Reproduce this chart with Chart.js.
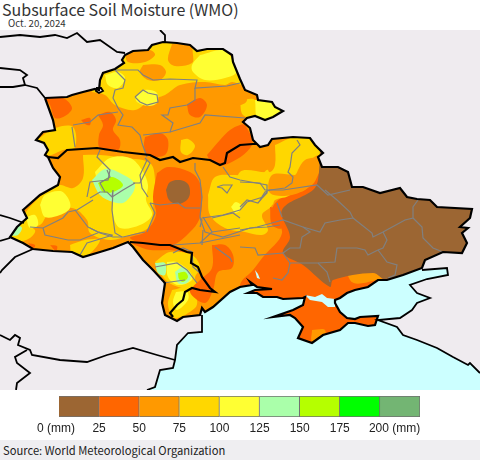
<!DOCTYPE html>
<html>
<head>
<meta charset="utf-8">
<title>Subsurface Soil Moisture (WMO)</title>
<script src="https://cdn.jsdelivr.net/npm/chart.js@4"></script>
<style>
  html, body { margin: 0; padding: 0; background: #fff; }
  #page { position: relative; width: 480px; height: 460px; overflow: hidden; }
  #page canvas { position: absolute; left: 0; }
  #title { position: absolute; left: 2px; top: -4px; font: 16px/26px "Noto Sans CJK JP", sans-serif; color: #333; white-space: nowrap; }
  #date { position: absolute; left: 8px; top: 16px; font: 9.7px/14px "Noto Sans CJK JP", sans-serif; color: #333; }
  #source { position: absolute; left: 0; top: 440px; width: 477px; height: 20px; padding-left: 3px; background: #efeef1; font: 11.2px/20px "Noto Sans CJK JP", sans-serif; color: #222; }
</style>
</head>
<body>
<div id="page">
  <div id="title">Subsurface Soil Moisture (WMO)</div>
  <div id="date">Oct. 20, 2024</div>
  <canvas id="map" width="480" height="360" style="top:30px"></canvas>
  <canvas id="scale" width="480" height="50" style="top:390px"></canvas>
  <div id="source">Source: World Meteorological Organization</div>
</div>
<script>
// colour classes, driest first
var classLabels = ["0-25","25-50","50-75","75-100","100-125","125-150","150-175","175-200","200+"];
var classColors = ["#9C6633","#FF6600","#FF9900","#FFD700","#FFFF33","#AAFFAA","#B5FF00","#00FF00","#73B573"];
var classWidths = [25,25,25,25,25,25,25,25,25];
var scaleTicks = [0,25,50,75,100,125,150,175,200];
var landColor = "#EFEBEF", seaColor = "#CCFFFF";

// country outline, map units
var countryOutline = [[45,98],[67,97],[72,95],[83,92],[95,89],[99,90],[100,80],[103,73],[115,69],[124,63],[122,60],[125,55],[133,51],[148,50],[152,45],[163,42],[177,43],[190,45],[197,51],[207,49],[223,49],[232,55],[233,62],[240,79],[245,90],[257,95],[258,100],[272,102],[275,107],[283,111],[273,117],[265,120],[255,116],[247,118],[243,122],[250,128],[253,140],[257,144],[260,147],[268,145],[272,139],[293,137],[310,138],[315,145],[323,153],[318,157],[322,167],[338,167],[348,172],[352,187],[363,187],[380,193],[400,188],[407,197],[417,199],[430,200],[437,207],[472,209],[470,218],[460,227],[468,228],[462,233],[467,243],[462,253],[443,252],[425,260],[422,268],[403,275],[387,280],[378,280],[368,287],[355,290],[347,293],[340,298],[335,300],[335,303],[340,312],[347,318],[355,319],[360,317],[378,316],[375,325],[368,326],[355,323],[348,323],[340,330],[323,335],[312,343],[298,338],[303,327],[295,318],[290,315],[273,317],[293,310],[303,305],[305,297],[303,298],[283,299],[277,297],[263,297],[257,293],[248,293],[255,290],[272,289],[257,287],[250,282],[252,285],[240,287],[230,292],[213,307],[205,312],[202,308],[200,315],[183,317],[177,321],[165,315],[162,303],[165,283],[153,270],[143,260],[133,247],[128,242],[113,248],[100,252],[83,257],[72,252],[53,251],[33,249],[23,243],[10,237],[17,227],[27,218],[23,210],[40,195],[58,185],[60,177],[53,168],[48,157],[45,155],[48,150],[44,143],[36,140],[43,132],[55,130],[53,120],[45,98]];
var midBorder = [[48,157],[58,158],[67,150],[97,148],[123,152],[150,155],[160,160],[173,157],[180,162],[193,158],[210,160],[220,165],[225,163],[227,153],[240,145],[253,144],[257,144]];
var moldovaBorder = [[130,242],[143,243],[160,245],[170,245],[187,252],[192,253],[191,263],[198,267],[202,277],[210,288],[215,292],[200,290],[192,288],[185,292],[183,300],[177,305],[170,313],[173,317]];
var otherBorders = [
  [[0,37],[20,35],[40,37],[55,35],[67,38],[77,33],[87,42],[100,40],[117,52],[125,53]],
  [[160,30],[165,35],[165,42]],
  [[0,68],[20,70],[27,75],[23,78],[25,85],[13,87],[0,87]],
  [[25,85],[37,88],[45,98]],
  [[0,215],[10,218],[24,223]],
  [[0,241],[10,238]],
  [[33,249],[15,257],[2,270],[0,273]],
  [[0,335],[10,340],[15,335],[20,338],[18,345],[30,350],[32,355],[60,360],[87,362],[107,355],[133,348],[157,355],[175,360]],
  [[27,350],[15,357],[17,363],[30,373],[17,383],[16,390]]
];
var enclave = [[96,88],[101,88],[103,91],[99,93],[96,91],[96,88]];
var westCoast = [[202,315],[202,332],[188,333],[177,345],[175,360],[173,368],[160,370],[155,387],[147,390]];
var eastCoast = [[480,373],[470,363],[468,365],[453,357],[437,348],[417,340],[403,335],[397,327],[378,320],[400,318],[412,310],[417,303],[430,298],[417,293],[410,285],[427,279],[448,275],[447,268],[422,270]];
var seaEdge = [[300,270],[240,280],[205,305]];
var sivash = [[305,295],[315,297],[322,294],[327,298],[335,299],[335,307],[328,307],[322,302],[310,300],[305,295]];
var estuary = [[255,270],[258,274],[260,279],[257,278],[255,270]];

// moisture contours, painted in order over the orange base
var contourLayers = [
  { cls: 1, rings: [
    [[320,157],[340,170],[350,280],[400,280],[420,350],[235,350],[240,285],[253,270],[263,257],[282,233],[272,210],[285,195],[305,190],[315,175],[320,157]]
  ]},
  { cls: 2, rings: [
    [[312,330],[325,330],[322,342],[312,342],[312,330]]
  ]},
  { cls: 3, rings: [
    [[92,92],[100,70],[125,55],[160,40],[240,60],[245,85],[232,82],[225,85],[205,82],[180,85],[165,95],[150,100],[135,110],[115,105],[105,95],[92,92]],
    [[240,100],[255,100],[258,118],[243,115],[240,100]],
    [[37,140],[55,128],[73,127],[75,147],[63,150],[47,155],[37,140]],
    [[275,145],[295,137],[315,140],[320,155],[305,160],[298,170],[294,182],[290,195],[275,200],[272,205],[240,200],[240,172],[270,172],[275,165],[275,145]],
    [[83,155],[100,155],[125,158],[150,163],[155,180],[153,200],[153,215],[148,228],[130,235],[110,240],[90,233],[87,220],[72,208],[48,215],[40,225],[22,228],[24,215],[42,195],[58,185],[73,188],[83,178],[83,155]],
    [[70,245],[85,240],[100,240],[85,257],[72,254],[70,245]],
    [[208,195],[215,177],[235,175],[258,177],[268,170],[270,190],[272,205],[262,215],[268,230],[262,235],[245,232],[225,228],[210,215],[208,195]],
    [[10,237],[20,224],[35,230],[30,238],[15,242],[10,237]],
    [[155,262],[170,252],[192,255],[200,267],[195,278],[198,290],[173,285],[163,277],[155,262]],
    [[172,290],[190,287],[197,300],[195,308],[175,318],[168,305],[172,290]],
    [[181,140],[188,139],[195,146],[188,155],[181,152],[181,140]]
  ]},
  { cls: 2, rings: [
    [[125,52],[150,50],[155,55],[145,62],[128,62],[125,52]],
    [[172,44],[190,44],[193,55],[192,63],[175,66],[168,60],[172,44]],
    [[143,65],[160,65],[166,72],[160,80],[148,80],[140,72],[143,65]],
    [[228,90],[240,85],[247,100],[240,105],[228,100],[228,90]],
    [[295,175],[318,155],[322,165],[318,175],[312,185],[292,195],[270,193],[272,175],[295,175]]
  ]},
  { cls: 4, rings: [
    [[200,55],[225,50],[233,62],[237,72],[225,78],[205,80],[193,72],[192,65],[200,55]],
    [[105,75],[118,72],[125,78],[118,88],[108,85],[105,75]],
    [[135,97],[145,90],[157,93],[157,103],[148,106],[137,102],[135,97]],
    [[255,100],[272,102],[285,111],[272,118],[258,120],[255,100]],
    [[40,205],[45,195],[60,191],[68,198],[70,208],[60,215],[45,217],[40,205]],
    [[26,217],[35,215],[38,225],[30,228],[26,217]],
    [[95,172],[110,158],[130,158],[142,170],[148,185],[146,200],[152,215],[140,225],[120,228],[113,215],[112,195],[100,190],[95,172]],
    [[231,207],[236,202],[242,207],[236,213],[231,207]],
    [[167,262],[177,262],[190,272],[192,280],[178,285],[168,277],[167,262]],
    [[176,292],[187,292],[188,300],[177,310],[173,302],[176,292]]
  ]},
  { cls: 1, rings: [
    [[45,98],[63,98],[72,108],[65,116],[55,118],[50,105],[45,98]],
    [[98,115],[110,112],[116,120],[113,130],[120,140],[118,150],[100,148],[99,135],[103,125],[98,115]],
    [[81,120],[90,118],[90,125],[85,124],[81,120]],
    [[145,137],[160,133],[168,140],[165,155],[147,155],[144,145],[145,137]],
    [[187,105],[200,98],[207,105],[200,117],[190,115],[187,105]],
    [[207,155],[220,140],[230,130],[240,125],[245,125],[252,145],[225,165],[210,160],[207,155]],
    [[157,173],[168,167],[190,172],[200,183],[202,203],[199,220],[190,232],[173,245],[150,245],[130,238],[145,232],[156,215],[153,197],[157,173]],
    [[270,207],[280,210],[282,228],[272,225],[270,207]],
    [[128,241],[170,244],[187,252],[170,250],[150,250],[135,245],[128,241]],
    [[212,245],[225,245],[233,255],[232,268],[218,272],[213,290],[205,303],[190,292],[200,280],[212,268],[212,245]],
    [[28,243],[35,245],[33,249],[28,243]],
    [[50,245],[57,246],[56,251],[50,245]]
  ]},
  { cls: 0, rings: [
    [[320,150],[480,160],[480,260],[387,280],[373,273],[333,280],[330,287],[303,265],[283,253],[290,237],[282,210],[313,190],[318,180],[320,150]],
    [[166,190],[170,182],[180,180],[188,184],[190,193],[187,200],[178,204],[169,200],[166,190]]
  ]},
  { cls: 5, rings: [
    [[92,180],[105,169],[120,173],[135,185],[125,202],[113,202],[100,195],[92,180]],
    [[12,236],[18,226],[22,228],[18,235],[12,236]],
    [[155,263],[165,263],[165,275],[158,273],[155,263]],
    [[175,272],[183,267],[191,275],[187,283],[178,283],[175,272]]
  ]},
  { cls: 6, rings: [
    [[98,183],[112,177],[123,185],[113,192],[103,192],[98,183]],
    [[178,273],[185,272],[188,277],[183,282],[179,279],[178,273]]
  ]}
];

// oblast boundaries
var oblastLines = [
  [[115,70],[138,70],[143,75],[153,80],[170,79],[197,80],[195,88],[227,86],[240,83]],
  [[115,70],[125,80],[123,88],[115,90],[113,98],[118,108],[123,115],[118,125],[132,127],[140,135],[142,143],[147,157]],
  [[73,125],[90,122],[98,115],[118,112]],
  [[72,127],[75,147]],
  [[135,97],[143,90],[148,93],[157,95],[158,102],[147,105],[140,102],[135,97]],
  [[195,88],[195,100],[187,105],[170,108],[168,115],[162,115],[173,123],[170,132],[143,135]],
  [[170,132],[200,123],[205,115],[245,118]],
  [[297,140],[300,145],[292,153],[290,167],[288,172],[293,177],[292,183],[285,188],[270,190],[265,192],[260,200]],
  [[240,182],[260,183],[265,190],[283,190],[317,185],[328,195],[350,190]],
  [[195,163],[195,170],[200,180],[202,197],[200,217],[202,220],[200,227]],
  [[223,167],[230,177],[240,180],[267,185],[267,193],[263,197],[247,202],[240,210],[223,215],[202,218]],
  [[217,187],[223,185],[232,185],[227,193],[222,188],[217,187]],
  [[133,183],[140,183],[150,163],[145,158]],
  [[90,198],[100,192],[107,192],[112,197],[123,190],[135,183]],
  [[107,170],[110,177],[100,183],[105,192]],
  [[90,228],[100,233],[113,237],[123,237],[140,233],[145,232]],
  [[150,203],[160,205],[178,203],[185,208],[200,208]],
  [[150,203],[155,213],[147,232]],
  [[200,218],[205,232],[223,237],[250,228],[267,227],[280,225]],
  [[203,230],[202,245]],
  [[100,150],[97,157],[110,170],[108,180],[90,182],[87,197]],
  [[147,160],[140,175],[142,188],[148,197]],
  [[112,197],[113,190],[112,210],[115,233],[122,237]],
  [[93,200],[77,210],[68,212],[63,218],[43,228],[30,227]],
  [[75,210],[88,227],[98,232],[112,235]],
  [[43,228],[45,235],[68,240],[80,240],[100,232]],
  [[80,255],[87,243],[113,235]],
  [[203,217],[212,232],[200,243],[173,245]],
  [[212,218],[233,213],[240,218]],
  [[212,232],[240,228]],
  [[200,243],[240,235]],
  [[215,247],[230,258],[232,262]],
  [[173,253],[183,248],[192,252],[193,267],[200,273],[203,278]],
  [[155,267],[177,263],[187,270],[197,283]],
  [[163,283],[185,280]],
  [[240,230],[257,227],[272,223],[283,220],[303,227],[320,232],[325,223],[340,220],[353,218],[350,212],[337,200],[325,190]],
  [[353,218],[372,233],[373,237],[383,232],[405,220],[413,218],[413,207],[418,200]],
  [[383,232],[387,240],[383,248],[378,250],[368,255],[365,250],[357,248],[337,248],[335,262],[318,263]],
  [[413,218],[422,227],[423,238],[433,248],[443,252]],
  [[378,250],[387,262],[397,265],[395,275],[388,278]],
  [[303,227],[310,232],[302,237],[300,248],[290,248],[283,253],[290,263],[302,263],[318,263],[327,272],[330,282]],
  [[290,263],[288,273],[282,280],[273,278]],
  [[240,247],[255,248],[258,255],[283,253]],
  [[240,207],[247,200],[258,203],[267,192]],
  [[277,203],[282,217]]
];

function toPoints(ring) {
  return ring.map(function(p) { return { x: p[0], y: p[1] }; });
}
function polygon(ring, color, tension, clip) {
  return { data: toPoints(ring), showLine: true, fill: "shape", backgroundColor: color, borderWidth: 0, pointRadius: 0, tension: tension, clipCountry: clip };
}
function polyline(ring, color, width) {
  return { data: toPoints(ring), showLine: true, fill: false, borderColor: color, borderWidth: width, pointRadius: 0, tension: 0 };
}

// keep the contours inside the country; has to run before the filler paints
var countryClip = {
  id: "countryClip",
  beforeDatasetDraw: function(chart, args) {
    if (!chart.data.datasets[args.index].clipCountry) return;
    var ctx = chart.ctx, xs = chart.scales.x, ys = chart.scales.y;
    ctx.save();
    ctx.beginPath();
    countryOutline.forEach(function(p, i) {
      var px = xs.getPixelForValue(p[0]), py = ys.getPixelForValue(p[1]);
      if (i === 0) ctx.moveTo(px, py); else ctx.lineTo(px, py);
    });
    ctx.closePath();
    ctx.clip();
  },
  afterDatasetDraw: function(chart, args) {
    if (chart.data.datasets[args.index].clipCountry) chart.ctx.restore();
  }
};
Chart.unregister(Chart.Filler);
Chart.register(countryClip);
Chart.register(Chart.Filler);

var mapSets = [];
mapSets.push(polygon([[147,390],[480,390]].concat(eastCoast, seaEdge, westCoast), seaColor, 0, false));
mapSets.push(polygon(countryOutline, classColors[2], 0, false));
contourLayers.forEach(function(layer) {
  layer.rings.forEach(function(ring) {
    mapSets.push(polygon(ring, classColors[layer.cls], 0.35, true));
  });
});
mapSets.push(polygon(sivash, seaColor, 0, false));
mapSets.push(polygon(estuary, seaColor, 0, false));
mapSets.push(polygon(enclave, landColor, 0, false));
oblastLines.forEach(function(line) {
  mapSets.push(polyline(line, "#808080", 1.2));
});
mapSets.push(polyline(westCoast, "#000", 1.8));
mapSets.push(polyline(eastCoast, "#000", 1.8));
otherBorders.forEach(function(line) {
  mapSets.push(polyline(line, "#000", 1.8));
});
mapSets.push(polyline(enclave, "#000", 1.8));
mapSets.push(polyline(countryOutline, "#000", 2.2));
mapSets.push(polyline(midBorder, "#000", 2.2));
mapSets.push(polyline(moldovaBorder, "#000", 2.2));
mapSets.reverse();  // first dataset is painted last

new Chart(document.getElementById("map"), {
  type: "scatter",
  data: { datasets: mapSets },
  options: {
    responsive: false,
    animation: false,
    layout: { padding: 0 },
    plugins: { legend: { display: false }, tooltip: { enabled: false } },
    scales: {
      x: { display: false, min: 0, max: 480 },
      y: { display: false, min: 30, max: 390, reverse: true }
    }
  },
  plugins: [{
    id: "landBackground",
    beforeDatasetsDraw: function(chart) {
      var a = chart.chartArea;
      chart.ctx.fillStyle = landColor;
      chart.ctx.fillRect(a.left, a.top, a.width, a.height);
    }
  }]
});

// tick labels sit under the class boundaries, the unit hangs off the first and last
var scaleLabels = {
  id: "scaleLabels",
  afterDraw: function(chart) {
    var ctx = chart.ctx, xs = chart.scales.x;
    ctx.font = '12px "Liberation Sans"';
    ctx.fillStyle = "#222";
    ctx.textBaseline = "middle";
    scaleTicks.forEach(function(v, i) {
      var px = xs.getPixelForValue(v);
      if (i === 0) {
        ctx.textAlign = "center";
        ctx.fillText(v + " (mm)", px - 3, 38.5);
      } else if (i === scaleTicks.length - 1) {
        ctx.textAlign = "left";
        ctx.fillText(v + " (mm)", px - 11, 38.5);
      } else {
        ctx.textAlign = "center";
        ctx.fillText(String(v), px, 38.5);
      }
    });
  }
};

new Chart(document.getElementById("scale"), {
  type: "bar",
  data: {
    labels: ["mm"],
    datasets: classLabels.map(function(label, i) {
      return { label: label, data: [classWidths[i]], backgroundColor: classColors[i], borderColor: "#707070", borderWidth: 1, categoryPercentage: 1, barPercentage: 1 };
    })
  },
  options: {
    indexAxis: "y",
    responsive: false,
    animation: false,
    layout: { padding: { left: 59, right: 60, top: 6, bottom: 23 } },
    plugins: { legend: { display: false }, tooltip: { enabled: false } },
    scales: {
      x: { display: false, stacked: true, min: 0, max: 225 },
      y: { display: false, stacked: true }
    }
  },
  plugins: [scaleLabels]
});
</script>
</body>
</html>
